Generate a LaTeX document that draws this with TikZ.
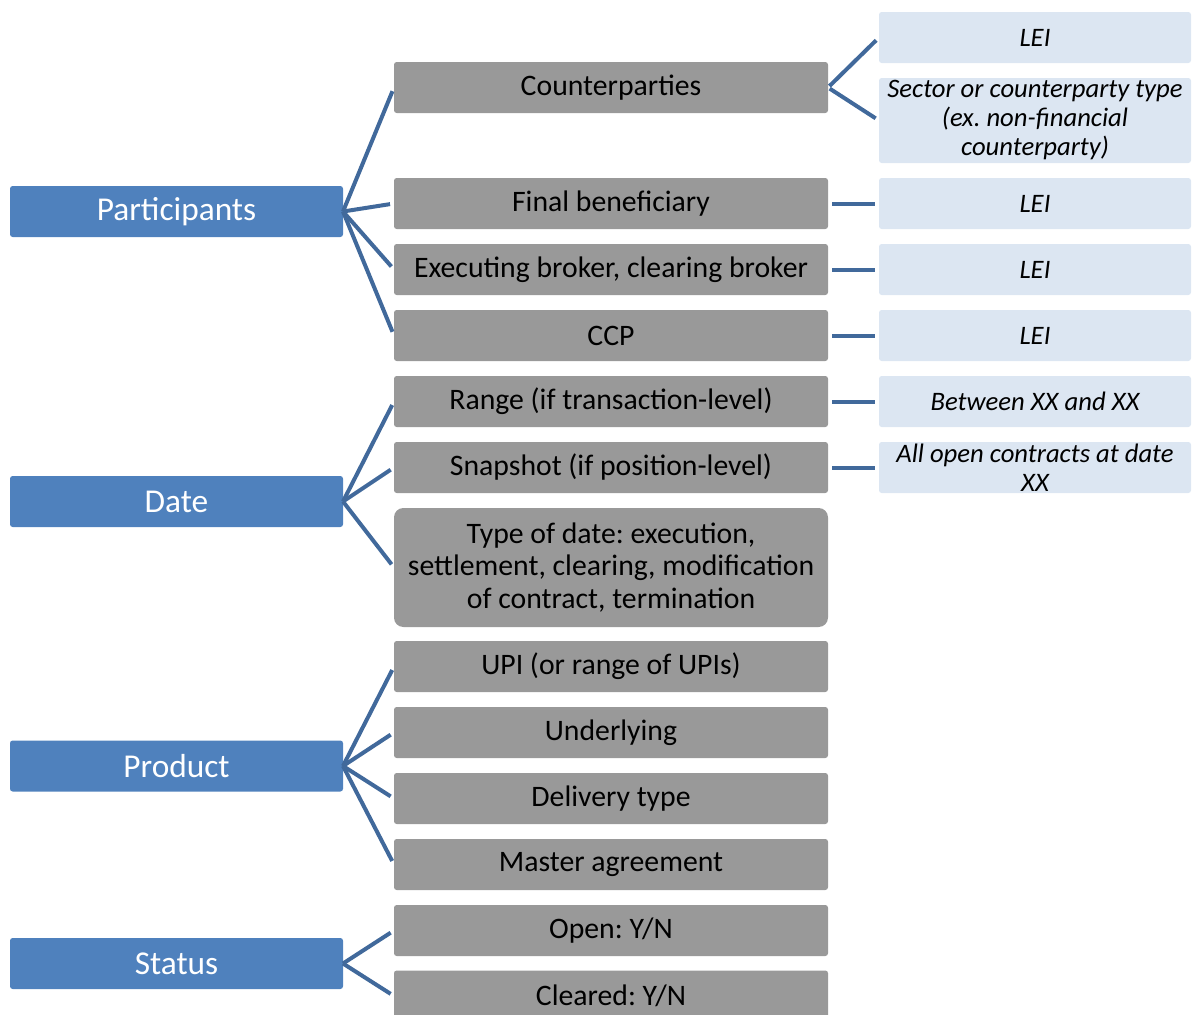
\documentclass[tikz,border=0pt]{standalone}
\usepackage{fontspec}
\setmainfont{Carlito}
\frenchspacing
\definecolor{bluef}{RGB}{79,129,189}
\definecolor{grayf}{RGB}{153,153,153}
\definecolor{lightf}{RGB}{220,230,242}
\definecolor{linec}{RGB}{65,105,155}
\tikzset{
  bbox/.style={fill=bluef, rounded corners=2pt, minimum width=249.75pt, minimum height=38.25pt, inner sep=0pt, outer sep=0pt, text=white, font=\fontsize{25}{29}\selectfont\frenchspacing},
  gbox/.style={fill=grayf, rounded corners=2pt, minimum width=325.5pt, minimum height=38.25pt, inner sep=0pt, outer sep=0pt, text=black, font=\fontsize{22.3}{24.4}\selectfont\frenchspacing, align=flush center},
  lbox/.style={fill=lightf, rounded corners=2pt, minimum width=234pt, minimum height=38.25pt, inner sep=0pt, outer sep=0pt, text=black, font=\fontsize{20}{21.75}\selectfont\itshape\frenchspacing, align=flush center},
  conn/.style={draw=linec, line width=3pt},
}
\begin{document}
\begin{tikzpicture}[x=0.75pt,y=-0.75pt]
\useasboundingbox (0,0) rectangle (1195,1014);
\clip (0,0) rectangle (1195,1014);
% blue
\node[bbox] (part) at (176.5,211.5) {Participants};
\node[bbox] (date) at (176.5,501.5) {Date};
\node[bbox] (prod) at (176.5,766) {Product};
\node[bbox] (stat) at (176.5,963.5) {Status};
% gray
\node[gbox] (cp) at (611,87.5) {Counterparties};
\node[gbox] (fb) at (611,203.5) {Final beneficiary};
\node[gbox] (eb) at (611,269.5) {Executing broker, clearing broker};
\node[gbox] (ccp) at (611,335.5) {CCP};
\node[gbox] (rng) at (611,401.5) {Range (if transaction-level)};
\node[gbox] (snap) at (611,467.5) {Snapshot (if position-level)};
\node[gbox, minimum height=89.25pt, rounded corners=7pt, text width=318pt] (tod) at (611,567.5) {Type of date: execution,\\ settlement, clearing, modification\\ of contract, termination};
\node[gbox] (upi) at (611,666.5) {UPI (or range of UPIs)};
\node[gbox] (und) at (611,732.5) {Underlying};
\node[gbox] (del) at (611,798.5) {Delivery type};
\node[gbox] (mas) at (611,864.5) {Master agreement};
\node[gbox] (opn) at (611,930.5) {Open: Y/N};
\node[gbox] (clr) at (611,996) {Cleared: Y/N};
% light
\node[lbox] (l1) at (1035,37.5) {LEI};
\node[lbox, minimum height=63.75pt, text width=232pt] (l2) at (1035,120.5) {Sector or counterparty type\\ (ex. non-financial\\ counterparty)};
\node[lbox] (l3) at (1035,203.5) {LEI};
\node[lbox] (l4) at (1035,269.5) {LEI};
\node[lbox] (l5) at (1035,335.5) {LEI};
\node[lbox] (l6) at (1035,401.5) {Between XX and XX};
\node[lbox, text width=232pt] (l7) at (1035,467.5) {All open contracts at date\\ XX};
% connectors left
\foreach \t in {cp,fb,eb,ccp} \draw[conn, shorten >=3pt] (part.east) -- (\t.west);
\foreach \t in {rng,snap,tod} \draw[conn, shorten >=3pt] (date.east) -- (\t.west);
\foreach \t in {upi,und,del,mas} \draw[conn, shorten >=3pt] (prod.east) -- (\t.west);
\foreach \t in {opn,clr} \draw[conn, shorten >=3pt] (stat.east) -- (\t.west);
% connectors right
\draw[conn, shorten >=3pt, shorten <=1.5pt] (cp.east) -- (l1.west);
\draw[conn, shorten >=3pt, shorten <=1.5pt] (cp.east) -- (l2.west);
\draw[conn, shorten >=3pt, shorten <=3pt] (fb.east) -- (l3.west);
\draw[conn, shorten >=3pt, shorten <=3pt] (eb.east) -- (l4.west);
\draw[conn, shorten >=3pt, shorten <=3pt] (ccp.east) -- (l5.west);
\draw[conn, shorten >=3pt, shorten <=3pt] (rng.east) -- (l6.west);
\draw[conn, shorten >=3pt, shorten <=3pt] (snap.east) -- (l7.west);
\end{tikzpicture}
\end{document}
